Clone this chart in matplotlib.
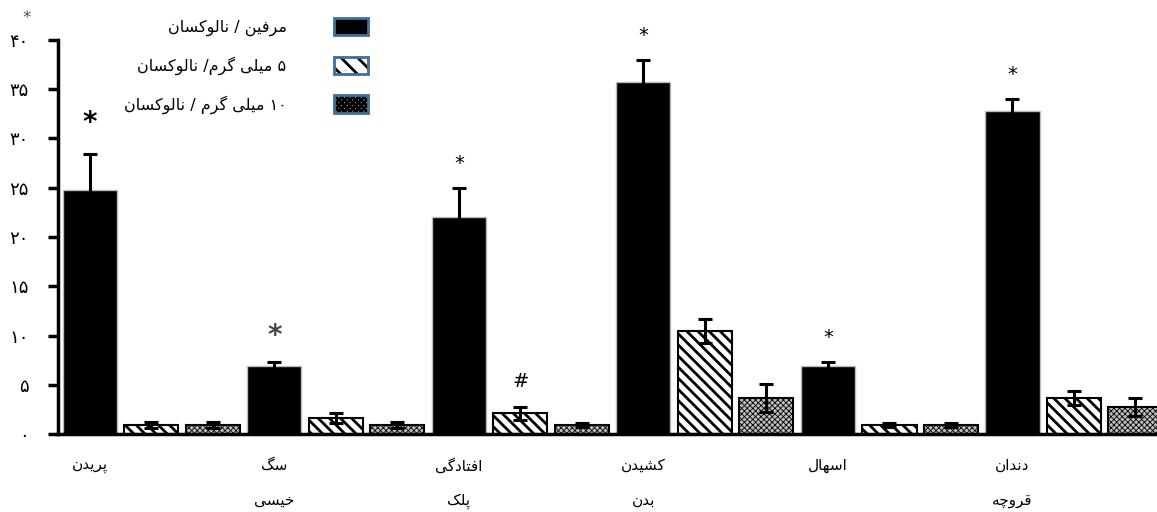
import re
import matplotlib
matplotlib.use("Agg")
import matplotlib.pyplot as plt
from matplotlib.patches import Patch
from matplotlib.legend_handler import HandlerTuple
import numpy as np

# --- data -------------------------------------------------------------
groups = ["پریدن", "سگ\nخیسی", "افتادگی\nپلک", "کشیدن\nبدن", "اسهال", "دندان\nقروچه"]
series = ["مرفین / نالوکسان", "۵ میلی گرم/ نالوکسان", "۱۰ میلی گرم / نالوکسان"]
morphine = [24.8, 6.9, 22.0, 35.7, 6.9, 32.8]
morphine_err = [3.6, 0.4, 3.0, 2.3, 0.4, 1.2]
nal5 = [0.9, 1.6, 2.1, 10.5, 0.9, 3.65]
nal5_err = [0.3, 0.5, 0.7, 1.2, 0.2, 0.7]
nal10 = [0.9, 0.9, 0.9, 3.65, 0.9, 2.75]
nal10_err = [0.3, 0.3, 0.2, 1.4, 0.2, 0.9]
yticks = [0, 5, 10, 15, 20, 25, 30, 35, 40]
# significance marks: (group, series, mark)
marks = [(0, 0, "*"), (1, 0, "*"), (2, 0, "*"), (2, 1, "#"),
         (3, 0, "*"), (4, 0, "*"), (5, 0, "*")]

# --- minimal persian shaping (matplotlib draws glyphs unjoined, LTR) ---
FORMS = {
    "ا": (0xFE8D, 0xFE8E, None, None), "د": (0xFEA9, 0xFEAA, None, None),
    "ر": (0xFEAD, 0xFEAE, None, None), "و": (0xFEED, 0xFEEE, None, None),
    "ب": (0xFE8F, 0xFE90, 0xFE91, 0xFE92), "ت": (0xFE95, 0xFE96, 0xFE97, 0xFE98),
    "خ": (0xFEA5, 0xFEA6, 0xFEA7, 0xFEA8), "س": (0xFEB1, 0xFEB2, 0xFEB3, 0xFEB4),
    "ش": (0xFEB5, 0xFEB6, 0xFEB7, 0xFEB8), "ف": (0xFED1, 0xFED2, 0xFED3, 0xFED4),
    "ق": (0xFED5, 0xFED6, 0xFED7, 0xFED8), "ل": (0xFEDD, 0xFEDE, 0xFEDF, 0xFEE0),
    "م": (0xFEE1, 0xFEE2, 0xFEE3, 0xFEE4), "ن": (0xFEE5, 0xFEE6, 0xFEE7, 0xFEE8),
    "ه": (0xFEE9, 0xFEEA, 0xFEEB, 0xFEEC), "ی": (0xFBFC, 0xFBFD, 0xFBFE, 0xFBFF),
    "ک": (0xFB8E, 0xFB8F, 0xFB90, 0xFB91), "گ": (0xFB92, 0xFB93, 0xFB94, 0xFB95),
    "پ": (0xFB56, 0xFB57, 0xFB58, 0xFB59), "چ": (0xFB7A, 0xFB7B, 0xFB7C, 0xFB7D),
}


def shape_line(s):
    out = []
    for i, c in enumerate(s):
        if c not in FORMS:
            out.append(c)
            continue
        f = FORMS[c]
        prev = i > 0 and s[i - 1] in FORMS and FORMS[s[i - 1]][2] is not None
        nxt = f[2] is not None and i + 1 < len(s) and s[i + 1] in FORMS
        if prev and nxt:
            out.append(chr(f[3]))
        elif prev:
            out.append(chr(f[1]))
        elif nxt:
            out.append(chr(f[2]))
        else:
            out.append(chr(f[0]))
    vis = "".join(out)[::-1]
    return re.sub(r"[0-9۰-۹]+", lambda m: m.group(0)[::-1], vis)


def fa(s):
    return "\n".join(shape_line(line) for line in s.split("\n"))


def fa_digits(n):
    return str(n).translate(str.maketrans("0123456789", "۰۱۲۳۴۵۶۷۸۹"))


plt.rcParams["font.family"] = ["DejaVu Sans"]
plt.rcParams["hatch.linewidth"] = 2.0

fig = plt.figure(figsize=(11.57, 5.12), dpi=100)
ax = fig.add_axes([0.050, 0.152, 0.950, 0.770])

n = len(groups)
x = np.arange(n) * 3
w = 0.88
err_kw = dict(ecolor="black", elinewidth=2.2, capsize=5, capthick=2.2)
grey_face = "#bdbdbd"

ax.bar(x, morphine, w, yerr=morphine_err, color="black",
       edgecolor="#bbbbbb", linewidth=1, error_kw=err_kw, zorder=2)
ax.bar(x + 1, nal5, w, yerr=nal5_err, color="white", hatch="\\\\\\",
       edgecolor="black", linewidth=1.5, error_kw=err_kw, zorder=2)
with plt.rc_context({"hatch.linewidth": 0.6}):
    ax.bar(x + 2, nal10, w, yerr=nal10_err, color=grey_face, hatch="xxxxxx",
           edgecolor="black", linewidth=1.5, error_kw=err_kw, zorder=2)

vals = [morphine, nal5, nal10]
errs = [morphine_err, nal5_err, nal10_err]
for g, s, m in marks:
    top = vals[s][g] + errs[s][g]
    big = g in (0, 1)
    ax.text(x[g] + s, top + (3.2 if g == 0 else 2.7 if big else 2.5), m,
            ha="center", va="center",
            fontsize=20 if big else 14,
            fontweight="bold" if big else "normal",
            color="#444444" if g == 1 else "black")

ax.set_xlim(-0.52, 3 * n - 0.65)
ax.set_ylim(0, 40)
ax.set_yticks(yticks)
ax.set_yticklabels([fa_digits(v) for v in yticks], fontsize=13)
ax.set_xticks(x)
ax.set_xticklabels([fa(g) for g in groups], fontsize=11, linespacing=2.65,
                   va="top")
ax.tick_params(axis="x", length=0, pad=17)
ax.tick_params(axis="y", length=7, width=2.5, direction="out", pad=14)
for side in ("top", "right"):
    ax.spines[side].set_visible(False)
for side in ("left", "bottom"):
    ax.spines[side].set_linewidth(2.5)

fig.text(27 / 1157, 1 - 18 / 512, "*", ha="center", va="center",
         fontsize=12, color="#555555")

# legend: text on the left, boxes with blue frame on the right
frame = "#41719C"
with plt.rc_context({"hatch.linewidth": 0.6}):
    dotted = Patch(facecolor=grey_face, edgecolor="black", hatch="xxxxxx")
handles = [
    (Patch(facecolor="black", edgecolor="black"),
     Patch(facecolor="none", edgecolor=frame, linewidth=2)),
    (Patch(facecolor="white", edgecolor="black", hatch="\\\\"),
     Patch(facecolor="none", edgecolor=frame, linewidth=2)),
    (dotted, Patch(facecolor="none", edgecolor=frame, linewidth=2)),
]
fig.legend(handles, [fa(s) for s in series],
           handler_map={tuple: HandlerTuple(ndivide=1)},
           loc="upper right", bbox_to_anchor=(368 / 1157, 1 - 18 / 512),
           frameon=False, markerfirst=False, fontsize=11.5,
           handlelength=2.1, handleheight=1.3, handletextpad=3.0,
           labelspacing=1.25, borderpad=0, borderaxespad=0)

fig.savefig("out.png", dpi=100)
